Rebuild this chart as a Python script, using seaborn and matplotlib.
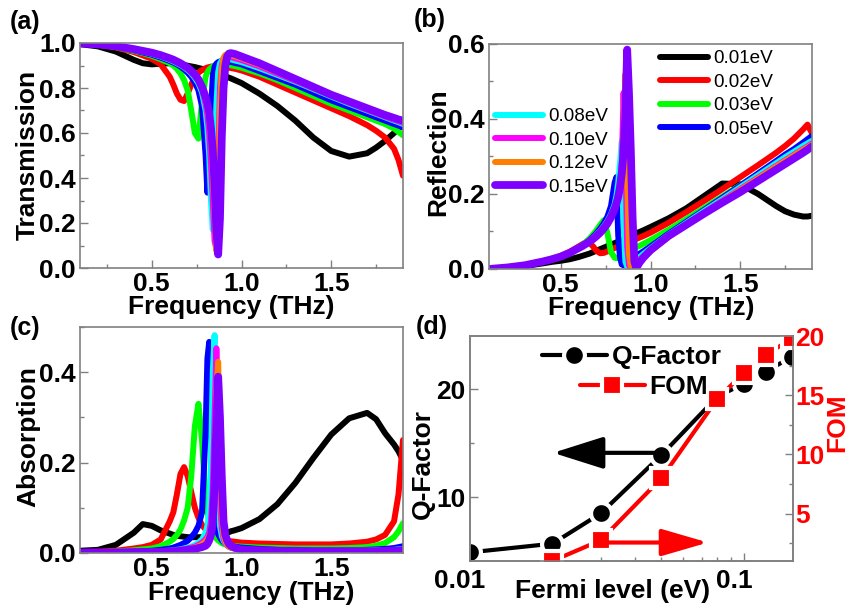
import matplotlib
matplotlib.use("Agg")
import matplotlib.pyplot as plt
import matplotlib.transforms as mtrans
from matplotlib.ticker import (MultipleLocator, FixedLocator, FixedFormatter,
                               LogLocator, NullFormatter)
import pandas as pd
import seaborn as sns

# ---------------- data ----------------
freq = [0.10, 0.20, 0.30, 0.40, 0.45, 0.50, 0.55,
        0.60, 0.62, 0.64, 0.66, 0.68, 0.70, 0.72, 0.74, 0.76, 0.78, 0.80,
        0.81, 0.82, 0.83, 0.84, 0.85, 0.86, 0.87, 0.88, 0.89, 0.90, 0.91, 0.92, 0.93, 0.94,
        0.96, 1.00,
        1.10, 1.20, 1.30, 1.40, 1.50, 1.60, 1.70,
        1.75, 1.80, 1.85, 1.875, 1.90]

levels = ['0.01eV', '0.02eV', '0.03eV', '0.05eV', '0.08eV', '0.10eV', '0.12eV', '0.15eV']

T_001 = [0.995, 0.985, 0.962, 0.925, 0.910, 0.905, 0.908,
         0.910, 0.909, 0.907, 0.905, 0.902, 0.899, 0.896, 0.893, 0.889, 0.885, 0.881,
         0.879, 0.877, 0.874, 0.872, 0.869, 0.867, 0.864, 0.861, 0.858, 0.855, 0.852, 0.849, 0.846, 0.843,
         0.836, 0.822,
         0.775, 0.720, 0.655, 0.580, 0.520, 0.495, 0.510,
         0.535, 0.565, 0.600, 0.620, 0.640]
T_002 = [0.998, 0.993, 0.980, 0.960, 0.945, 0.930, 0.905,
         0.850, 0.815, 0.775, 0.748, 0.742, 0.775, 0.815, 0.848, 0.868, 0.880, 0.888,
         0.891, 0.893, 0.895, 0.896, 0.897, 0.897, 0.896, 0.895, 0.894, 0.893, 0.892, 0.891, 0.890, 0.889,
         0.886, 0.878,
         0.850, 0.815, 0.780, 0.745, 0.710, 0.675, 0.635,
         0.610, 0.580, 0.530, 0.480, 0.410]
T_003 = [0.998, 0.993, 0.982, 0.965, 0.955, 0.943, 0.928,
         0.910, 0.900, 0.885, 0.865, 0.835, 0.790, 0.700, 0.600, 0.575, 0.740, 0.850,
         0.870, 0.882, 0.890, 0.896, 0.900, 0.903, 0.905, 0.906, 0.906, 0.906, 0.905, 0.904, 0.903, 0.901,
         0.898, 0.890,
         0.865, 0.835, 0.800, 0.765, 0.730, 0.700, 0.670,
         0.655, 0.640, 0.620, 0.605, 0.590]
T_005 = [0.998, 0.993, 0.983, 0.968, 0.958, 0.948, 0.935,
         0.920, 0.913, 0.905, 0.895, 0.883, 0.868, 0.850, 0.825, 0.790, 0.720, 0.500,
         0.335, 0.450, 0.700, 0.850, 0.895, 0.908, 0.915, 0.918, 0.920, 0.920, 0.920, 0.919, 0.918, 0.916,
         0.912, 0.905,
         0.875, 0.845, 0.815, 0.780, 0.745, 0.715, 0.685,
         0.670, 0.655, 0.640, 0.633, 0.625]
T_008 = [0.998, 0.993, 0.984, 0.970, 0.962, 0.952, 0.940,
         0.925, 0.918, 0.910, 0.902, 0.892, 0.880, 0.865, 0.845, 0.820, 0.780, 0.700,
         0.620, 0.500, 0.300, 0.170, 0.420, 0.720, 0.870, 0.910, 0.922, 0.927, 0.929, 0.929, 0.928, 0.927,
         0.923, 0.915,
         0.888, 0.858, 0.828, 0.795, 0.762, 0.730, 0.700,
         0.685, 0.670, 0.655, 0.648, 0.640]
T_010 = [0.998, 0.994, 0.985, 0.971, 0.963, 0.954, 0.942,
         0.928, 0.921, 0.913, 0.905, 0.895, 0.884, 0.870, 0.852, 0.830, 0.795, 0.730,
         0.680, 0.600, 0.460, 0.300, 0.120, 0.085, 0.450, 0.800, 0.900, 0.930, 0.940, 0.941, 0.940, 0.938,
         0.933, 0.924,
         0.896, 0.864, 0.832, 0.799, 0.766, 0.734, 0.703,
         0.688, 0.673, 0.659, 0.652, 0.645]
T_012 = [0.998, 0.994, 0.985, 0.972, 0.964, 0.956, 0.944,
         0.930, 0.924, 0.916, 0.908, 0.898, 0.887, 0.873, 0.856, 0.834, 0.800, 0.745,
         0.710, 0.660, 0.570, 0.440, 0.240, 0.075, 0.300, 0.700, 0.880, 0.935, 0.947, 0.949, 0.948, 0.946,
         0.942, 0.932,
         0.903, 0.870, 0.836, 0.802, 0.768, 0.737, 0.707,
         0.692, 0.677, 0.663, 0.656, 0.650]
T_015 = [0.998, 0.994, 0.986, 0.973, 0.965, 0.957, 0.946,
         0.932, 0.926, 0.918, 0.910, 0.900, 0.890, 0.876, 0.860, 0.838, 0.805, 0.760,
         0.730, 0.690, 0.620, 0.520, 0.370, 0.170, 0.060, 0.220, 0.580, 0.800, 0.900, 0.940, 0.953, 0.955,
         0.952, 0.940,
         0.910, 0.875, 0.840, 0.805, 0.770, 0.740, 0.710,
         0.695, 0.680, 0.667, 0.660, 0.655]

R_001 = [0.000, 0.003, 0.008, 0.015, 0.019, 0.022, 0.026,
         0.032, 0.035, 0.038, 0.041, 0.045, 0.049, 0.053, 0.057, 0.061, 0.065, 0.069,
         0.071, 0.073, 0.075, 0.078, 0.080, 0.082, 0.084, 0.086, 0.088, 0.090, 0.092, 0.094, 0.097, 0.099,
         0.103, 0.112,
         0.135, 0.162, 0.195, 0.228, 0.226, 0.200, 0.168,
         0.154, 0.145, 0.140, 0.140, 0.142]
R_002 = [0.000, 0.004, 0.010, 0.020, 0.027, 0.035, 0.046,
         0.060, 0.066, 0.071, 0.070, 0.060, 0.048, 0.042, 0.043, 0.047, 0.052, 0.056,
         0.058, 0.060, 0.062, 0.064, 0.066, 0.068, 0.070, 0.072, 0.074, 0.076, 0.078, 0.080, 0.082, 0.084,
         0.088, 0.097,
         0.123, 0.152, 0.182, 0.213, 0.245, 0.277, 0.310,
         0.328, 0.348, 0.372, 0.385, 0.362]
R_003 = [0.000, 0.004, 0.010, 0.020, 0.026, 0.033, 0.043,
         0.057, 0.064, 0.072, 0.081, 0.092, 0.104, 0.118, 0.130, 0.095, 0.045, 0.030,
         0.029, 0.030, 0.032, 0.035, 0.038, 0.041, 0.044, 0.047, 0.050, 0.053, 0.055, 0.058, 0.060, 0.062,
         0.067, 0.077,
         0.104, 0.133, 0.163, 0.193, 0.223, 0.253, 0.283,
         0.298, 0.313, 0.328, 0.336, 0.345]
R_005 = [0.000, 0.004, 0.010, 0.020, 0.026, 0.033, 0.043,
         0.056, 0.062, 0.069, 0.077, 0.086, 0.096, 0.108, 0.122, 0.140, 0.168, 0.230,
         0.245, 0.090, 0.030, 0.012, 0.010, 0.012, 0.015, 0.019, 0.023, 0.027, 0.031, 0.035, 0.038, 0.041,
         0.047, 0.060,
         0.094, 0.126, 0.158, 0.190, 0.222, 0.255, 0.288,
         0.305, 0.320, 0.337, 0.346, 0.355]
R_008 = [0.000, 0.004, 0.010, 0.020, 0.026, 0.033, 0.043,
         0.056, 0.062, 0.068, 0.075, 0.083, 0.092, 0.102, 0.114, 0.128, 0.146, 0.172,
         0.195, 0.230, 0.280, 0.340, 0.120, 0.020, 0.006, 0.006, 0.010, 0.015, 0.020, 0.024, 0.028, 0.032,
         0.040, 0.055,
         0.091, 0.123, 0.155, 0.186, 0.218, 0.250, 0.282,
         0.298, 0.313, 0.328, 0.335, 0.342]
R_010 = [0.000, 0.004, 0.010, 0.020, 0.026, 0.033, 0.043,
         0.056, 0.062, 0.068, 0.075, 0.082, 0.091, 0.101, 0.112, 0.125, 0.142, 0.165,
         0.180, 0.200, 0.228, 0.280, 0.470, 0.300, 0.060, 0.010, 0.004, 0.008, 0.013, 0.018, 0.022, 0.026,
         0.034, 0.050,
         0.087, 0.119, 0.151, 0.182, 0.213, 0.244, 0.275,
         0.290, 0.305, 0.320, 0.327, 0.335]
R_012 = [0.000, 0.004, 0.010, 0.020, 0.026, 0.033, 0.043,
         0.056, 0.061, 0.067, 0.074, 0.081, 0.089, 0.099, 0.110, 0.123, 0.140, 0.162,
         0.176, 0.195, 0.222, 0.265, 0.340, 0.520, 0.250, 0.040, 0.008, 0.004, 0.010, 0.016, 0.020, 0.024,
         0.032, 0.048,
         0.085, 0.117, 0.149, 0.180, 0.211, 0.242, 0.273,
         0.288, 0.303, 0.318, 0.325, 0.332]
R_015 = [0.000, 0.004, 0.010, 0.020, 0.026, 0.033, 0.043,
         0.056, 0.061, 0.067, 0.073, 0.080, 0.088, 0.097, 0.108, 0.121, 0.138, 0.160,
         0.174, 0.192, 0.218, 0.255, 0.310, 0.410, 0.585, 0.470, 0.320, 0.140, 0.020, 0.003, 0.010, 0.018,
         0.030, 0.050,
         0.088, 0.118, 0.148, 0.177, 0.205, 0.235, 0.265,
         0.280, 0.295, 0.310, 0.318, 0.327]

A_001 = [0.005, 0.007, 0.018, 0.045, 0.064, 0.060, 0.050,
         0.043, 0.040, 0.038, 0.037, 0.036, 0.035, 0.035, 0.035, 0.035, 0.035, 0.035,
         0.035, 0.036, 0.036, 0.037, 0.038, 0.039, 0.040, 0.041, 0.042, 0.043, 0.044, 0.045, 0.046, 0.048,
         0.050, 0.055,
         0.075, 0.108, 0.155, 0.210, 0.262, 0.298, 0.310,
         0.296, 0.265, 0.240, 0.225, 0.205]
A_002 = [0.002, 0.003, 0.005, 0.010, 0.013, 0.018, 0.030,
         0.070, 0.090, 0.130, 0.175, 0.190, 0.170, 0.135, 0.100, 0.078, 0.062, 0.052,
         0.048, 0.045, 0.042, 0.039, 0.037, 0.035, 0.033, 0.032, 0.031, 0.030, 0.029, 0.028, 0.027, 0.026,
         0.025, 0.023,
         0.021, 0.020, 0.019, 0.019, 0.019, 0.021, 0.025,
         0.030, 0.040, 0.070, 0.130, 0.250]
A_003 = [0.002, 0.002, 0.003, 0.006, 0.008, 0.010, 0.015,
         0.025, 0.031, 0.040, 0.052, 0.072, 0.100, 0.170, 0.280, 0.330, 0.250, 0.120,
         0.095, 0.070, 0.050, 0.045, 0.038, 0.032, 0.028, 0.025, 0.022, 0.020, 0.019, 0.018, 0.017, 0.016,
         0.015, 0.014,
         0.012, 0.011, 0.010, 0.010, 0.010, 0.011, 0.013,
         0.016, 0.022, 0.035, 0.048, 0.066]
A_005 = [0.001, 0.001, 0.002, 0.003, 0.004, 0.005, 0.007,
         0.010, 0.012, 0.015, 0.018, 0.022, 0.027, 0.035, 0.045, 0.060, 0.090, 0.270,
         0.430, 0.467, 0.280, 0.150, 0.085, 0.055, 0.042, 0.034, 0.028, 0.024, 0.021, 0.019, 0.017, 0.016,
         0.014, 0.012,
         0.009, 0.007, 0.006, 0.006, 0.006, 0.006, 0.007,
         0.008, 0.009, 0.011, 0.013, 0.015]
A_008 = [0.001, 0.001, 0.001, 0.002, 0.002, 0.003, 0.004,
         0.005, 0.006, 0.007, 0.008, 0.010, 0.012, 0.014, 0.018, 0.023, 0.030, 0.045,
         0.060, 0.090, 0.200, 0.400, 0.482, 0.250, 0.120, 0.060, 0.038, 0.027, 0.021, 0.017, 0.014, 0.012,
         0.010, 0.008,
         0.006, 0.005, 0.005, 0.005, 0.005, 0.005, 0.005,
         0.006, 0.006, 0.007, 0.008, 0.009]
A_010 = [0.001, 0.001, 0.001, 0.002, 0.002, 0.003, 0.003,
         0.004, 0.005, 0.006, 0.007, 0.008, 0.010, 0.012, 0.014, 0.018, 0.023, 0.030,
         0.036, 0.045, 0.070, 0.140, 0.300, 0.453, 0.300, 0.120, 0.055, 0.032, 0.022, 0.017, 0.014, 0.012,
         0.010, 0.008,
         0.006, 0.005, 0.005, 0.005, 0.005, 0.005, 0.005,
         0.005, 0.006, 0.006, 0.007, 0.008]
A_012 = [0.001, 0.001, 0.001, 0.002, 0.002, 0.002, 0.003,
         0.004, 0.004, 0.005, 0.006, 0.007, 0.008, 0.010, 0.012, 0.015, 0.019, 0.025,
         0.030, 0.037, 0.050, 0.080, 0.170, 0.350, 0.423, 0.220, 0.080, 0.040, 0.025, 0.018, 0.014, 0.012,
         0.010, 0.008,
         0.006, 0.005, 0.005, 0.005, 0.005, 0.005, 0.005,
         0.005, 0.005, 0.006, 0.006, 0.007]
A_015 = [0.001, 0.001, 0.001, 0.002, 0.002, 0.002, 0.003,
         0.003, 0.004, 0.004, 0.005, 0.006, 0.007, 0.008, 0.009, 0.011, 0.013, 0.016,
         0.020, 0.028, 0.040, 0.065, 0.150, 0.280, 0.390, 0.300, 0.170, 0.070, 0.040, 0.028, 0.020, 0.016,
         0.012, 0.008,
         0.006, 0.005, 0.005, 0.004, 0.004, 0.004, 0.004,
         0.004, 0.005, 0.005, 0.005, 0.006]

fermi = [0.01, 0.02, 0.03, 0.05, 0.08, 0.10, 0.12, 0.15]
q_factor = [4.9, 5.7, 8.5, 13.9, 19.3, 20.5, 21.6, 23.0]
fom_fermi = [0.02, 0.03, 0.05, 0.08, 0.10, 0.12, 0.15]
fom = [1.0, 2.75, 8.0, 14.7, 16.9, 18.4, 19.8]

# ---------------- styling ----------------
colors = ['#000000', '#FF0000', '#00FF00', '#0000FF', '#00FFFF', '#FF00FF', '#FF8000', '#8000FF']
widths = [4.3, 4.3, 4.3, 4.3, 4.3, 4.3, 4.3, 5.6]

sns.set_theme(style='white')
plt.rcParams['font.family'] = ['Liberation Sans', 'DejaVu Sans']
plt.rcParams['font.weight'] = 'bold'
plt.rcParams['axes.labelweight'] = 'bold'
plt.rcParams['text.color'] = 'black'
plt.rcParams['axes.labelcolor'] = 'black'
plt.rcParams['xtick.color'] = 'black'
plt.rcParams['ytick.color'] = 'black'

W, H = 850, 608
fig = plt.figure(figsize=(W / 100, H / 100), dpi=100)


def add_ax(left, top, right, bottom):
    return fig.add_axes([left / W, 1 - bottom / H, (right - left) / W, (bottom - top) / H])


ax_a = add_ax(80, 43, 403, 268)
ax_b = add_ax(489, 44, 812, 269)
ax_c = add_ax(80, 327, 403, 553)
ax_d = add_ax(470, 336, 793, 561)

tables = {
    'T': [T_001, T_002, T_003, T_005, T_008, T_010, T_012, T_015],
    'R': [R_001, R_002, R_003, R_005, R_008, R_010, R_012, R_015],
    'A': [A_001, A_002, A_003, A_005, A_008, A_010, A_012, A_015],
}
frames = []
for key, series in tables.items():
    for lev, vals in zip(levels, series):
        frames.append(pd.DataFrame({'freq': freq, 'value': vals, 'level': lev, 'panel': key}))
df = pd.concat(frames, ignore_index=True)

GRAY = '#808080'
FS = 19


def style_axes(ax):
    for sp in ax.spines.values():
        sp.set_color(GRAY)
        sp.set_linewidth(1.2)
        sp.set_visible(True)
    ax.tick_params(which='both', direction='in', color=GRAY, labelcolor='black', width=1,
                   labelsize=FS, pad=3, top=False, right=False, left=True, bottom=True)
    ax.tick_params(which='major', length=6)
    ax.tick_params(which='minor', length=3)


for ax, key, ylim, ylab in ((ax_a, 'T', (0, 1.0), 'Transmission'),
                            (ax_b, 'R', (0, 0.6), 'Reflection'),
                            (ax_c, 'A', (0, 0.5), 'Absorption')):
    for lev, col, lw in zip(levels, colors, widths):
        sub = df[(df['panel'] == key) & (df['level'] == lev)]
        sns.lineplot(data=sub, x='freq', y='value', color=col, lw=lw, ax=ax,
                     legend=False, estimator=None, sort=False, label=lev)
        ln = ax.lines[-1]
        ln.set_solid_capstyle('round')
        ln.set_solid_joinstyle('round')
    ax.set_xlim(0.1, 1.9)
    ax.set_ylim(*ylim)
    ax.xaxis.set_major_locator(MultipleLocator(0.5))
    ax.xaxis.set_minor_locator(MultipleLocator(0.25))
    ax.yaxis.set_major_locator(MultipleLocator(0.2))
    ax.yaxis.set_minor_locator(MultipleLocator(0.1))
    style_axes(ax)
    ax.set_xlabel('Frequency (THz)', fontsize=FS, fontweight='bold')
    ax.set_ylabel(ylab, fontsize=FS, fontweight='bold')

ax_a.xaxis.set_label_coords(0.467, -0.175)
ax_b.xaxis.set_label_coords(0.502, -0.172)
ax_c.xaxis.set_label_coords(0.529, -0.175)
ax_a.yaxis.set_label_coords(-0.163, 0.502)
ax_b.yaxis.set_label_coords(-0.158, 0.52)
ax_c.yaxis.set_label_coords(-0.161, 0.513)
for ax in (ax_a, ax_b, ax_c, ax_d):
    ax.xaxis.label.set_va('center')
    ax.yaxis.label.set_va('center')

# legends in (b)
lines_b = ax_b.get_lines()
leg_prop = dict(family='Liberation Sans', size=13.6, weight='normal')
leg1 = ax_b.legend(lines_b[:4], levels[:4], loc='center left',
                   bbox_to_anchor=(660 / W, 1 - 94 / H), bbox_transform=fig.transFigure,
                   frameon=False, prop=leg_prop, handlelength=2.54, handletextpad=0.26,
                   labelspacing=0.33, borderpad=0, borderaxespad=0)
ax_b.add_artist(leg1)
leg2 = ax_b.legend(lines_b[4:], levels[4:], loc='center left',
                   bbox_to_anchor=(495 / W, 1 - 152 / H), bbox_transform=fig.transFigure,
                   frameon=False, prop=leg_prop, handlelength=2.54, handletextpad=0.26,
                   labelspacing=0.33, borderpad=0, borderaxespad=0)

# ---------------- panel (d) ----------------
sns.lineplot(x=fermi, y=q_factor, ax=ax_d, color='black', lw=3, marker='o', ms=15,
             mfc='black', mec='white', mew=3, legend=False, label='Q-Factor')
ax_d.set_xscale('log')
ax_d.set_ylim(4.1, 24.9)
ax_d.yaxis.set_major_locator(MultipleLocator(10))
ax_d.yaxis.set_minor_locator(MultipleLocator(5))

ax2 = ax_d.twinx()
sns.lineplot(x=fom_fermi, y=fom, ax=ax2, color='red', lw=3, marker='s', ms=14,
             mfc='red', mec='white', mew=3, legend=False, label='FOM')
ax2.set_ylim(1.0, 20.0)
ax2.yaxis.set_major_locator(MultipleLocator(5))
ax2.yaxis.set_minor_locator(MultipleLocator(2.5))

# x axis of (d) configured after twinx so nothing resets it
ax_d.set_xlim(0.01, 0.151)
ax_d.xaxis.set_major_locator(FixedLocator([0.01, 0.1]))
ax_d.xaxis.set_major_formatter(FixedFormatter(['0.01', '0.1']))
ax_d.xaxis.set_minor_locator(LogLocator(base=10, subs=range(2, 10)))
ax_d.xaxis.set_minor_formatter(NullFormatter())
style_axes(ax_d)
ax_d.tick_params(axis='x', pad=6)
ax_d.set_xlabel('Fermi level (eV)', fontsize=FS, fontweight='bold')
ax_d.set_ylabel('Q-Factor', fontsize=FS, fontweight='bold')
ax_d.xaxis.set_label_coords(0.44, -0.135)
ax_d.yaxis.set_label_coords(-0.145, 0.43)
ax_d.xaxis.label.set_va('center')
ax_d.yaxis.label.set_va('center')

for sp in ax2.spines.values():
    sp.set_color(GRAY)
    sp.set_linewidth(1.2)
ax2.tick_params(which='both', direction='in', color=GRAY, width=1, labelsize=FS,
                labelcolor='red', pad=1.5, left=False, right=True, labelleft=False,
                labelright=True, bottom=False, top=False)
ax2.tick_params(which='major', length=6)
ax2.tick_params(which='minor', length=3)
ax2.set_ylabel('FOM', fontsize=FS, fontweight='bold', color='red', rotation=90)
ax2.yaxis.set_label_coords((837 - 470) / 323, 0.613)
ax2.yaxis.label.set_va('center')

ax_d.annotate('', xy=(0.0201, 14.1), xytext=(0.0486, 14.1),
              arrowprops=dict(arrowstyle='-|>,head_length=1.2,head_width=0.38',
                              mutation_scale=26, color='black', lw=3,
                              shrinkA=0, shrinkB=0))
ax2.annotate('', xy=(0.0739, 2.56), xytext=(0.031, 2.56),
             arrowprops=dict(arrowstyle='-|>,head_length=1.1,head_width=0.32',
                             mutation_scale=26, color='red', lw=3,
                             shrinkA=0, shrinkB=0))

fig.canvas.draw()
off = mtrans.ScaledTranslation(-10 / 100, 0, fig.dpi_scale_trans)
for lbl in ax_d.get_xticklabels():
    lbl.set_transform(lbl.get_transform() + off)

q_handle = ax_d.get_lines()[0]
f_handle = ax2.get_lines()[0]
legq = fig.legend([q_handle], ['Q-Factor'], loc='center left',
                  bbox_to_anchor=(542 / W, 1 - 357 / H), frameon=False,
                  prop=dict(family='Liberation Sans', size=FS, weight='bold'),
                  handlelength=2.46, handletextpad=0.2, borderpad=0, borderaxespad=0)
legf = fig.legend([f_handle], ['FOM'], loc='center left',
                  bbox_to_anchor=(580 / W, 1 - 387 / H), frameon=False,
                  prop=dict(family='Liberation Sans', size=FS, weight='bold'),
                  handlelength=2.46, handletextpad=0.15, borderpad=0, borderaxespad=0)

# panel labels
for txt, x, y in (('(a)', 25, 22), ('(b)', 430, 20), ('(c)', 25, 328), ('(d)', 432, 327)):
    fig.text(x / W, 1 - y / H, txt, ha='center', va='center', fontsize=18, fontweight='bold')

fig.savefig('out.png', dpi=100)
